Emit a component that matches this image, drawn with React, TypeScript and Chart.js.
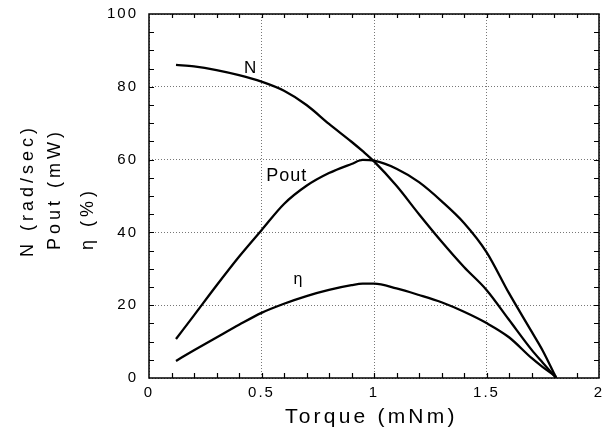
import React, { useEffect, useRef } from "react";
import { Chart, registerables } from "chart.js";

Chart.register(...registerables);

// Torque (mNm)
const torque = [0.12, 0.2, 0.3, 0.4, 0.5, 0.6, 0.7, 0.8, 0.9, 0.95, 1.0, 1.1, 1.2, 1.3, 1.4, 1.5, 1.6, 1.7, 1.75, 1.81];
// N (rad/sec)
const speedN = [86.0, 85.6, 84.6, 83.2, 81.4, 78.9, 75.0, 69.8, 64.9, 62.3, 59.5, 52.8, 45.0, 37.5, 30.5, 24.2, 16.0, 7.8, 4.2, 0];
// Pout (mW)
const powerOut = [10.7, 17.2, 25.4, 33.3, 40.6, 47.8, 52.8, 56.3, 58.8, 59.9, 59.7, 57.5, 53.8, 48.6, 42.6, 34.6, 23.3, 12.8, 7.5, 0];
// η (%)
const efficiency = [4.7, 7.6, 11.1, 14.6, 17.9, 20.4, 22.5, 24.2, 25.5, 25.9, 25.9, 24.6, 22.8, 20.8, 18.2, 15.1, 11.2, 5.5, 3.0, 0.3];

const xTickStep = 0.5;
const yTickStep = 20;
const xMinorStep = 0.1;
const yMinorStep = 5;

const curveLabels = [
  { text: "N", x: 0.449, y: 85.5 },
  { text: "Pout", x: 0.612, y: 55.8 },
  { text: "η", x: 0.662, y: 27.5 },
];

const yTitleLines = ["N (rad/sec)", "Pout (mW)", "η (%)"];
const xTitle = "Torque (mNm)";

const FONT = "'Liberation Sans', Arial, Helvetica, sans-serif";

const zeroPad = (s: any) => {
  s.paddingLeft = 0;
  s.paddingRight = 0;
  s.paddingTop = 0;
  s.paddingBottom = 0;
};

const framePlugin = {
  id: "frameAndText",
  beforeDraw(chart: any) {
    (chart.ctx as any).letterSpacing = "2px";
  },
  afterDatasetsDraw(chart: any) {
    const ctx = chart.ctx;
    const { left, right, top, bottom } = chart.chartArea;
    const xs = chart.scales.x;
    const ys = chart.scales.y;
    ctx.save();
    ctx.strokeStyle = "#000";
    ctx.lineWidth = 1.5;
    ctx.strokeRect(left, top, right - left, bottom - top);
    ctx.lineWidth = 1.2;
    ctx.beginPath();
    for (let v = xMinorStep; v < xs.max - 1e-6; v += xMinorStep) {
      const px = Math.round(xs.getPixelForValue(v)) + 0.5;
      ctx.moveTo(px, bottom);
      ctx.lineTo(px, bottom - 5);
      ctx.moveTo(px, top);
      ctx.lineTo(px, top + 4);
    }
    for (let v = yMinorStep; v < ys.max - 1e-6; v += yMinorStep) {
      const py = Math.round(ys.getPixelForValue(v)) + 0.5;
      ctx.moveTo(left, py);
      ctx.lineTo(left + 5, py);
      ctx.moveTo(right, py);
      ctx.lineTo(right - 5, py);
    }
    ctx.stroke();
    ctx.restore();
  },
  afterDraw(chart: any) {
    const ctx = chart.ctx;
    const xs = chart.scales.x;
    const ys = chart.scales.y;
    ctx.save();
    ctx.fillStyle = "#000";
    ctx.textBaseline = "alphabetic";
    ctx.textAlign = "left";
    // curve labels
    curveLabels.forEach((l, i) => {
      const size = i === 0 ? 17 : i === 1 ? 18 : 16;
      ctx.font = `${size}px ${FONT}`;
      (ctx as any).letterSpacing = i === 1 ? "1px" : "0px";
      const px = xs.getPixelForValue(l.x);
      const py = ys.getPixelForValue(l.y);
      const w = ctx.measureText(l.text).width;
      ctx.fillText(l.text, px - w / 2, py + 6);
    });
    // x title
    ctx.font = `21px ${FONT}`;
    (ctx as any).letterSpacing = "3.2px";
    ctx.fillText(xTitle, 285, 423);
    // y title (rotated)
    ctx.font = `18px ${FONT}`;
    (ctx as any).letterSpacing = "4px";
    const baseXs = [33, 60, 93];
    const startYs = [257, 250, 250];
    yTitleLines.forEach((t, i) => {
      ctx.save();
      ctx.translate(baseXs[i], startYs[i]);
      ctx.rotate(-Math.PI / 2);
      ctx.fillText(t, 0, 0);
      ctx.restore();
    });
    ctx.restore();
    (ctx as any).letterSpacing = "0px";
  },
};

export default function App() {
  const ref = useRef<HTMLCanvasElement | null>(null);

  useEffect(() => {
    document.body.style.margin = "0";
    const canvas = ref.current;
    if (!canvas) return;
    const mk = (vals: number[]) => torque.map((t, i) => ({ x: t, y: vals[i] }));
    const common = {
      borderColor: "#000",
      backgroundColor: "#000",
      borderWidth: 2.3,
      pointRadius: 0,
      fill: false,
      cubicInterpolationMode: "monotone" as const,
    };
    const chart = new Chart(canvas, {
      type: "line",
      data: {
        datasets: [
          { label: "N", data: mk(speedN), ...common },
          { label: "Pout", data: mk(powerOut), ...common },
          { label: "η", data: mk(efficiency), ...common },
        ],
      },
      options: {
        animation: false,
        responsive: false,
        devicePixelRatio: 1,
        layout: { autoPadding: false, padding: { top: 14, right: 3, left: 0, bottom: 0 } },
        plugins: { legend: { display: false }, tooltip: { enabled: false }, title: { display: false } },
        scales: {
          x: {
            type: "linear",
            min: 0,
            max: 2,
            afterFit: (s: any) => {
              s.height = 51;
              zeroPad(s);
            },
            ticks: {
              stepSize: xTickStep,
              color: "#000",
              font: { family: FONT, size: 15 },
              padding: 6,
              maxRotation: 0,
              callback: (v: any) => String(Number(v)),
            },
            grid: { color: "#777", lineWidth: 1, drawTicks: false },
            border: { display: false, dash: [1, 2] },
          },
          y: {
            type: "linear",
            min: 0,
            max: 100,
            afterFit: (s: any) => {
              s.width = 149;
              zeroPad(s);
            },
            ticks: {
              stepSize: yTickStep,
              color: "#000",
              font: { family: FONT, size: 15 },
              padding: 11,
              callback: (v: any) => String(Number(v)),
            },
            grid: { color: "#777", lineWidth: 1, drawTicks: false },
            border: { display: false, dash: [1, 2] },
          },
        },
      },
      plugins: [framePlugin],
    });
    return () => chart.destroy();
  }, []);

  return (
    <div style={{ position: "fixed", left: 0, top: 0, width: 602, height: 429, background: "#fff" }}>
      <canvas ref={ref} width={602} height={429} style={{ width: 602, height: 429, display: "block" }} />
    </div>
  );
}
